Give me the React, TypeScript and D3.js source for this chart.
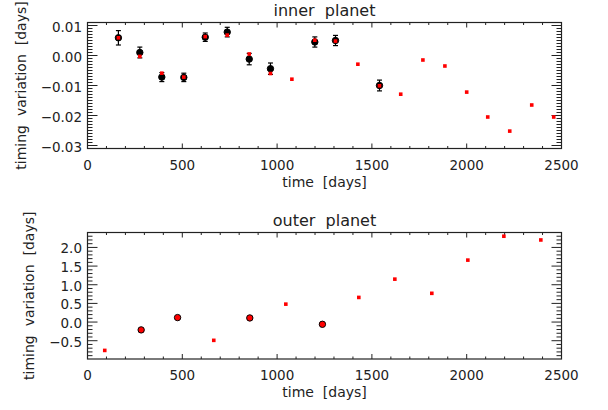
import * as d3 from 'd3';

// inner planet: model (red squares) and observed (black dots with errors)
const innerModelTime = [163, 276, 392, 508, 621, 737, 853, 965, 1078, 1199, 1308, 1426, 1540, 1652, 1769, 1885, 2000, 2111, 2227, 2343, 2459];
const innerModelValue = [0.0059, -0.0003, -0.0059, -0.0072, 0.0063, 0.0068, 0.0005, -0.006, -0.0079, 0.0051, 0.0048, -0.0029, -0.0101, -0.0129, -0.0015, -0.0035, -0.0122, -0.0205, -0.0252, -0.0165, -0.0205];
const innerObsTime = [163, 276, 392, 508, 621, 737, 853, 965, 1199, 1308, 1540];
const innerObsValue = [0.0059, 0.001, -0.0072, -0.0073, 0.0061, 0.0078, -0.0012, -0.0044, 0.0045, 0.005, -0.01];
const innerObsErr = [0.0024, 0.0018, 0.0015, 0.0014, 0.0014, 0.0016, 0.0019, 0.0019, 0.0017, 0.0017, 0.0018];

// outer planet
const outerModelTime = [91, 283, 475, 666, 856, 1046, 1239, 1431, 1621, 1816, 2006, 2196, 2391];
const outerModelValue = [-0.76, -0.21, 0.12, -0.49, 0.11, 0.48, -0.06, 0.66, 1.15, 0.77, 1.66, 2.3, 2.2];
const outerObsTime = [283, 475, 856, 1239];
const outerObsValue = [-0.21, 0.12, 0.11, -0.06];
const outerObsErr = [0.01, 0.01, 0.01, 0.01];

const xTicks = [0, 500, 1000, 1500, 2000, 2500];
const innerYTicks = [-0.03, -0.02, -0.01, 0.0, 0.01];
const outerYTicks = [-0.5, 0.0, 0.5, 1.0, 1.5, 2.0];

const FONT = 'DejaVu Sans, sans-serif';
const INK = '#222';
const RED = '#ff0000';

type PanelProps = {
  title: string;
  top: number;
  bottom: number;
  yDomain: [number, number];
  yTicks: number[];
  yMinorStep: number;
  yFmt: (v: number) => string;
  yLabelX: number;
  modelTime: number[];
  modelValue: number[];
  obsTime: number[];
  obsValue: number[];
  obsErr: number[];
  obsFill: string;
};

function Panel(p: PanelProps) {
  const left = 87.5;
  const right = 561.5;
  const x = d3.scaleLinear().domain([0, 2500]).range([left, right]);
  const y = d3.scaleLinear().domain(p.yDomain).range([p.bottom, p.top]);
  const xMinor = d3.range(0, 2501, 100);
  const nMinor = Math.round((p.yDomain[1] - p.yDomain[0]) / p.yMinorStep) + 2;
  const yStart = Math.ceil(p.yDomain[0] / p.yMinorStep);
  const yMinor = d3.range(nMinor).map((i) => (yStart + i) * p.yMinorStep).filter((v) => v >= p.yDomain[0] && v <= p.yDomain[1]);
  const cx = (left + right) / 2;
  const cy = (p.top + p.bottom) / 2;
  return (
    <g>
      <text x={cx} y={p.top - 7} textAnchor="middle" fontSize={16} fill={INK} style={{ whiteSpace: 'pre' }}>
        {p.title}
      </text>
      <rect x={left} y={p.top} width={right - left} height={p.bottom - p.top} fill="none" stroke={INK} strokeWidth={1.2} />
      {/* x ticks bottom and top */}
      {xMinor.map((t) => {
        const major = t % 500 === 0;
        const len = major ? 5 : 2.5;
        return (
          <g key={'xt' + t} stroke={INK} strokeWidth={1}>
            <line x1={x(t)} x2={x(t)} y1={p.bottom} y2={p.bottom - len} />
            <line x1={x(t)} x2={x(t)} y1={p.top} y2={p.top + len} />
          </g>
        );
      })}
      {yMinor.map((v, i) => {
        const major = p.yTicks.some((t) => Math.abs(t - v) < p.yMinorStep / 10);
        const len = major ? 10 : 5;
        return (
          <g key={'yt' + i} stroke={INK} strokeWidth={1}>
            <line x1={left} x2={left + len} y1={y(v)} y2={y(v)} />
            <line x1={right} x2={right - len} y1={y(v)} y2={y(v)} />
          </g>
        );
      })}
      {xTicks.map((t) => (
        <text key={'xl' + t} x={x(t)} y={p.bottom + 21} textAnchor="middle" fontSize={13.5} fill={INK}>
          {t}
        </text>
      ))}
      {p.yTicks.map((t) => (
        <text key={'yl' + t} x={82} y={y(t) + 6} textAnchor="end" fontSize={13.5} fill={INK}>
          {p.yFmt(t)}
        </text>
      ))}
      <text x={cx} y={p.bottom + 38} textAnchor="middle" fontSize={14} fill={INK} style={{ whiteSpace: 'pre' }}>
        {'time  [days]'}
      </text>
      <text transform={`translate(${p.yLabelX},${cy}) rotate(-90)`} textAnchor="middle" fontSize={14} fill={INK} style={{ whiteSpace: 'pre' }}>
        {'timing  variation  [days]'}
      </text>
      {/* observed */}
      {p.obsTime.map((t, i) => {
        const px = x(t);
        const y0 = y(p.obsValue[i] - p.obsErr[i]);
        const y1 = y(p.obsValue[i] + p.obsErr[i]);
        return (
          <g key={'ob' + i}>
            <line x1={px} x2={px} y1={y0} y2={y1} stroke="#000" strokeWidth={1.2} />
            <line x1={px - 2.5} x2={px + 2.5} y1={y0} y2={y0} stroke="#000" strokeWidth={1.2} />
            <line x1={px - 2.5} x2={px + 2.5} y1={y1} y2={y1} stroke="#000" strokeWidth={1.2} />
            <circle cx={px} cy={y(p.obsValue[i])} r={3.2} fill={p.obsFill} stroke="#000" strokeWidth={1} />
          </g>
        );
      })}
      {/* model */}
      {p.modelTime.map((t, i) => (
        <rect key={'m' + i} x={x(t) - 1.8} y={y(p.modelValue[i]) - 1.8} width={3.6} height={3.6} fill={RED} />
      ))}
    </g>
  );
}

export default function App() {
  return (
    <svg width={608} height={410} style={{ position: 'absolute', left: 0, top: 0, background: '#fff' }} fontFamily={FONT}>
      <rect width={608} height={410} fill="#fff" />
      <Panel
        title={'inner  planet'}
        top={22.5}
        bottom={148.5}
        yDomain={[-0.031, 0.011]}
        yTicks={innerYTicks}
        yMinorStep={0.001}
        yFmt={d3.format('.2f')}
        yLabelX={26}
        modelTime={innerModelTime}
        modelValue={innerModelValue}
        obsTime={innerObsTime}
        obsValue={innerObsValue}
        obsErr={innerObsErr}
        obsFill="#000"
      />
      <Panel
        title={'outer  planet'}
        top={232.5}
        bottom={359}
        yDomain={[-0.99, 2.4]}
        yTicks={outerYTicks}
        yMinorStep={0.1}
        yFmt={d3.format('.1f')}
        yLabelX={34}
        modelTime={outerModelTime}
        modelValue={outerModelValue}
        obsTime={outerObsTime}
        obsValue={outerObsValue}
        obsErr={outerObsErr}
        obsFill={RED}
      />
    </svg>
  );
}
